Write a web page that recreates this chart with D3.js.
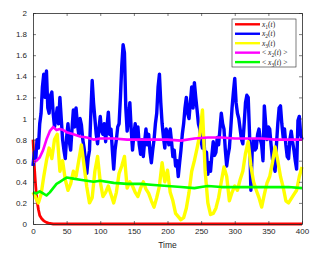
<!DOCTYPE html>
<html lang="en">
<head>
<meta charset="UTF-8">
<title>x1, x2, x3 over time</title>
<script src="https://d3js.org/d3.v7.min.js"></script>
<style>
  body { margin: 0; background: #fff; overflow: hidden; }
  svg { display: block; }
  .tick text { font-family: "Liberation Sans", Arial, sans-serif; font-size: 8px; fill: #262626; }
  .leg text { font-family: "Liberation Serif", "DejaVu Serif", serif; font-style: italic; font-size: 7.5px; fill: #262626; }
</style>
</head>
<body>
<div id="chart"></div>
<script>
// ---- data ----
const xTicks = [0, 50, 100, 150, 200, 250, 300, 350, 400];
const yTicks = [0, 0.2, 0.4, 0.6, 0.8, 1, 1.2, 1.4, 1.6, 1.8, 2];

// x1(t): fast decay to zero
const x1Time = [0, 1, 2, 3, 4, 5, 6, 8, 10, 13, 16, 20, 25, 30, 40, 400];
const x1Vals = [0.8, 0.68, 0.55, 0.45, 0.36, 0.28, 0.22, 0.14, 0.08, 0.05, 0.03, 0.015, 0.005, 0, 0, 0];

// x2(t): sampled every 2 time units, 0..400
const x2Vals = [
  0.55, 0.68, 0.6, 0.8, 0.72, 0.95, 1.05, 1.3, 1.42, 1.2, 1.45, 1.1, 1.05, 1.22, 1.25, 1.05, 0.92, 1.0, 1.1, 0.95,
  1.2, 1.0, 0.8, 0.7, 0.62, 0.82, 0.95, 0.78, 0.7, 0.9, 1.08, 0.92, 1.1, 0.95, 0.85, 1.0, 0.94, 0.8, 0.72, 0.6,
  0.48, 0.62, 0.7, 1.05, 1.36, 1.15, 1.0, 0.85, 0.76, 0.9, 1.02, 0.88, 0.85, 0.95, 0.78, 0.92, 1.06, 0.85, 0.9, 0.7,
  0.52, 0.7, 0.8, 0.92, 0.95, 1.2, 1.5, 1.7, 1.62, 1.1, 0.88, 1.0, 1.15, 0.9, 0.7, 0.85, 0.95, 0.8, 0.92, 0.75,
  0.66, 0.8, 0.64, 0.78, 0.9, 0.75, 0.85, 0.68, 0.58, 0.7, 0.8, 0.95, 1.05, 1.3, 1.42, 1.15, 0.95, 0.82, 0.72, 0.9,
  0.86, 0.75, 0.9, 0.78, 0.64, 0.7, 0.55, 0.6, 0.45, 0.58, 0.7, 0.85, 0.95, 1.1, 1.2, 1.05, 1.0, 1.15, 1.3, 1.1,
  1.34, 1.2, 1.08, 0.95, 0.9, 0.78, 0.72, 0.82, 0.6, 0.68, 0.47, 0.58, 0.5, 0.65, 0.78, 0.65, 0.68, 0.82, 0.75, 0.9,
  1.05, 0.95, 0.9, 0.7, 0.55, 0.65, 0.72, 0.9, 1.1, 1.25, 1.38, 1.15, 1.05, 1.0, 0.9, 0.8, 0.76, 0.95, 1.15, 1.22,
  1.2, 0.85, 0.32, 0.7, 0.8, 0.7, 0.72, 0.85, 0.9, 0.8, 0.75, 0.6, 1.12, 0.95, 0.8, 0.92, 0.9, 0.75, 0.62, 0.55,
  0.5, 0.75, 0.95, 1.1, 1.12, 0.95, 0.82, 0.9, 0.75, 0.64, 0.62, 0.8, 0.88, 0.78, 0.7, 0.6, 0.52, 0.98, 1.02, 0.85,
  0.8
];

// x3(t): sampled every 4 time units, 0..400
const x3Vals = [
  0.3, 0.25, 0.2, 0.28, 0.45, 0.6, 0.72, 0.62, 0.8, 0.85, 0.5, 0.6, 0.42, 0.32, 0.38, 0.5, 0.45, 0.6, 0.75, 0.55,
  0.35, 0.2, 0.25, 0.5, 0.64, 0.4, 0.26, 0.3, 0.36, 0.28, 0.2, 0.3, 0.48, 0.55, 0.64, 0.34, 0.4, 0.36, 0.3, 0.26,
  0.34, 0.4, 0.33, 0.29, 0.22, 0.16, 0.25, 0.36, 0.58, 0.4, 0.51, 0.3, 0.22, 0.1, 0.07, 0.04, 0.06, 0.15, 0.3, 0.5,
  0.6, 0.72, 0.85, 1.08, 0.5, 0.2, 0.09, 0.1, 0.15, 0.25, 0.4, 0.54, 0.45, 0.22, 0.3, 0.36, 0.32, 0.42, 0.5, 0.67,
  0.78, 0.55, 0.4, 0.32, 0.25, 0.16, 0.28, 0.39, 0.45, 0.58, 0.73, 0.6, 0.45, 0.35, 0.22, 0.2, 0.24, 0.28, 0.32, 0.45,
  0.54
];

// <x2(t)> running mean
const m2Time = [0, 5, 10, 15, 20, 25, 30, 35, 40, 45, 50, 60, 70, 80, 90, 100, 120, 140, 160, 180, 200, 220, 240, 260, 280, 300, 320, 340, 360, 380, 400];
const m2Vals = [0.59, 0.6, 0.63, 0.7, 0.8, 0.88, 0.92, 0.89, 0.9, 0.89, 0.87, 0.85, 0.83, 0.82, 0.8, 0.81, 0.81, 0.8, 0.8, 0.8, 0.8, 0.79, 0.81, 0.82, 0.82, 0.81, 0.81, 0.81, 0.8, 0.8, 0.8];

// <x3(t)> running mean
const m3Time = [0, 5, 10, 15, 20, 25, 30, 35, 40, 45, 50, 60, 70, 80, 90, 100, 120, 140, 160, 180, 200, 220, 240, 250, 260, 280, 300, 320, 340, 360, 380, 400];
const m3Vals = [0.3, 0.29, 0.31, 0.29, 0.27, 0.3, 0.34, 0.38, 0.4, 0.42, 0.44, 0.43, 0.42, 0.41, 0.4, 0.41, 0.39, 0.38, 0.38, 0.37, 0.36, 0.35, 0.34, 0.35, 0.36, 0.35, 0.35, 0.35, 0.35, 0.35, 0.35, 0.34];

const legendLabels = [
  { pre: "", sub: "1", post: "", color: "#ff0000" },
  { pre: "", sub: "2", post: "", color: "#0000ff" },
  { pre: "", sub: "3", post: "", color: "#ffff00" },
  { pre: "< ", sub: "2", post: " >", color: "#ff00ff" },
  { pre: "< ", sub: "3", post: " >", color: "#00ff00" }
];

// ---- layout ----
const width = 319, height = 253;
const margin = { top: 13, right: 17, bottom: 29, left: 33 };
const axisColor = "#262626";

const svg = d3.select("#chart").append("svg")
  .attr("width", width)
  .attr("height", height);

const x = d3.scaleLinear().domain([0, 400]).range([margin.left, width - margin.right]);
const y = d3.scaleLinear().domain([0, 2]).range([height - margin.bottom, margin.top]);

// series as point lists
const toPts = (ts, vs) => vs.map((v, i) => ({ t: ts[i], v }));
const series = [
  { pts: toPts(x1Time, x1Vals), color: "#ff0000", w: 2.8 },
  { pts: x2Vals.map((v, i) => ({ t: i * 2, v })), color: "#0000ff", w: 3.4 },
  { pts: x3Vals.map((v, i) => ({ t: i * 4, v })), color: "#ffff00", w: 3.4 },
  { pts: toPts(m2Time, m2Vals), color: "#ff00ff", w: 2.6 },
  { pts: toPts(m3Time, m3Vals), color: "#00ff00", w: 2.6 }
];

const line = d3.line().x(d => x(d.t)).y(d => y(d.v));

svg.selectAll(".series")
  .data(series)
  .enter().append("path")
  .attr("class", "series")
  .attr("d", d => line(d.pts))
  .attr("fill", "none")
  .attr("stroke", d => d.color)
  .attr("stroke-width", d => d.w)
  .attr("stroke-linejoin", "round");

// ---- axes (box with inward ticks, MATLAB style) ----
const tl = 3;
const gx = svg.append("g")
  .attr("transform", `translate(0,${y(0)})`)
  .call(d3.axisBottom(x).tickValues(xTicks).tickSizeInner(-tl).tickSizeOuter(0).tickPadding(6));
const gy = svg.append("g")
  .attr("transform", `translate(${x(0)},0)`)
  .call(d3.axisLeft(y).tickValues(yTicks).tickFormat(d3.format("~g")).tickSizeInner(-tl).tickSizeOuter(0).tickPadding(6));
const gxt = svg.append("g")
  .attr("transform", `translate(0,${y(2)})`)
  .call(d3.axisTop(x).tickValues(xTicks).tickSizeInner(-tl).tickSizeOuter(0).tickFormat(""));
const gyr = svg.append("g")
  .attr("transform", `translate(${x(400)},0)`)
  .call(d3.axisRight(y).tickValues(yTicks).tickSizeInner(-tl).tickSizeOuter(0).tickFormat(""));

[gx, gy, gxt, gyr].forEach(g => {
  g.select(".domain").attr("stroke", axisColor).attr("stroke-width", 0.8);
  g.selectAll(".tick line").attr("stroke", axisColor).attr("stroke-width", 0.6);
  g.selectAll(".tick text").attr("fill", axisColor);
});
gx.selectAll(".tick text").attr("dy", "0.45em");

svg.append("text")
  .attr("x", (x(0) + x(400)) / 2)
  .attr("y", 248)
  .attr("text-anchor", "middle")
  .style("font-family", "'Liberation Sans', Arial, sans-serif")
  .style("font-size", "8.5px")
  .style("fill", axisColor)
  .text("Time");

// ---- legend ----
const lg = svg.append("g").attr("class", "leg");
lg.append("rect")
  .attr("x", 232).attr("y", 19)
  .attr("width", 64).attr("height", 48)
  .attr("fill", "#fff")
  .attr("stroke", axisColor)
  .attr("stroke-width", 0.6);

const rows = lg.selectAll(".row")
  .data(legendLabels)
  .enter().append("g")
  .attr("class", "row")
  .attr("transform", (d, i) => `translate(0,${24.3 + i * 9.45})`);

rows.append("line")
  .attr("x1", 235).attr("x2", 260)
  .attr("stroke", d => d.color)
  .attr("stroke-width", 2.4);

const txt = rows.append("text")
  .attr("x", 262)
  .attr("y", 2.5);
txt.append("tspan").style("font-style", "normal").text(d => d.pre);
txt.append("tspan").text("x");
txt.append("tspan").attr("baseline-shift", "-25%").style("font-size", "5.5px").style("font-style", "normal").text(d => d.sub);
txt.append("tspan").style("font-style", "normal").text("(");
txt.append("tspan").text("t");
txt.append("tspan").style("font-style", "normal").text(d => ")" + d.post);
</script>
</body>
</html>
